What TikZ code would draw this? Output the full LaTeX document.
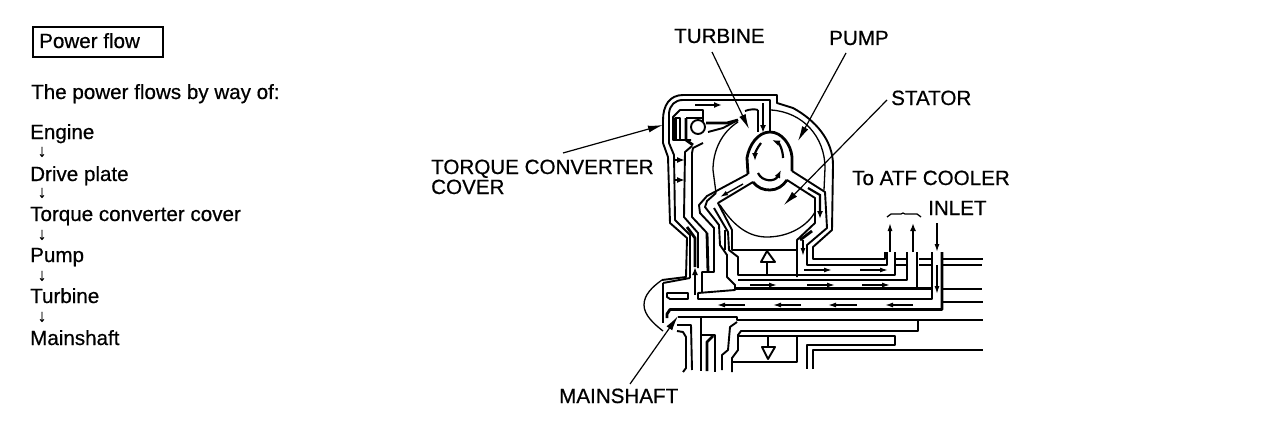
\documentclass[tikz,border=0pt]{standalone}
\usepackage{fontspec}
\setmainfont{Liberation Sans}[RawFeature={embolden=0.6}]
\usetikzlibrary{arrows.meta}
\tikzset{
  lab/.style={anchor=base west,inner sep=0pt,font=\fontsize{20.6}{24}\selectfont,text=black},
  dn/.style={anchor=center,inner sep=0pt,font=\fontsize{17}{20}\selectfont},
  tn/.style={line width=1.3pt,line join=round},
  md/.style={line width=1.9pt,line join=round},
  tk/.style={line width=2.8pt,line join=round},
  lead/.style={line width=1.2pt,-{Latex[length=15pt,width=7pt]}},
  flow/.style={line width=1.4pt,-{Latex[length=8pt,width=5pt]}},
  flowb/.style={line width=2.2pt,-{Latex[length=8pt,width=6pt]}},
}
\begin{document}
\begin{tikzpicture}[x=1pt,y=-1pt]
\useasboundingbox (0,0) rectangle (1280,436);
% left text
\node[draw,line width=1.6pt,minimum width=130pt,minimum height=30pt,anchor=north west,inner sep=0pt] (box) at (32,26) {};
\node[lab] (t0) at (39,48) {Power flow};
\node[lab] (t1) at (31,99) {The power flows by way of:};
\node[lab] (l1) at (30,139) {Engine};
\node[dn] (a1) at (42,152) {↓};
\node[lab] (l2) at (30,181) {Drive plate};
\node[dn] (a2) at (42,193) {↓};
\node[lab] (l3) at (30,221) {Torque converter cover};
\node[dn] (a3) at (42,235) {↓};
\node[lab] (l4) at (30,262) {Pump};
\node[dn] (a4) at (42,276) {↓};
\node[lab] (l5) at (30,303) {Turbine};
\node[dn] (a5) at (42,317) {↓};
\node[lab] (l6) at (30,345) {Mainshaft};
% labels
\node[lab] (turb) at (674,43) {TURBINE};
\node[lab] (pump) at (829,45) {PUMP};
\node[lab] (stat) at (891,105) {STATOR};
\node[lab] (tcc1) at (431,174) {TORQUE CONVERTER};
\node[lab] (tcc2) at (431,194) {COVER};
\node[lab] (atf) at (852,185) {To ATF COOLER};
\node[lab] (inl) at (928,215) {INLET};
\node[lab] (msh) at (559,403) {MAINSHAFT};
% leaders
\coordinate (turbS) at (712,52); \coordinate (turbT) at (749,129);
\coordinate (pumpS) at (846,53); \coordinate (pumpT) at (798,141);
\coordinate (statS) at (887,100); \coordinate (statT) at (784,205);
\coordinate (tccS) at (563,153); \coordinate (tccT) at (663,125);
\coordinate (mshS) at (630,384); \coordinate (mshT) at (678,316);
\draw[lead] (turbS) -- (turbT);
\draw[lead] (pumpS) -- (pumpT);
\draw[lead] (statS) -- (statT);
\draw[lead] (tccS) -- (tccT);
\draw[lead] (mshS) -- (mshT);
% cover outer
\draw[md] (662,280) -- (678,278) -- (686,277) -- (687,238) -- (670,223) -- (668,157) -- (663,143) -- (663,120) .. controls (663,105) and (670,95) .. (683,95) -- (777,95) -- (777,103) -- (793,108) .. controls (815,120) and (833,140) .. (833,165) -- (832,230) -- (813,247) -- (813,259) -- (885,259) -- (885,252);
\draw[tn] (662,280) .. controls (652,287) and (644,295) .. (644,305) .. controls (644,315) and (654,324) .. (663,331);
\draw[md] (690,278) -- (690,235) -- (675,220) -- (674,155) -- (669,143) -- (669,113) .. controls (670,105) and (675,100) .. (683,100) -- (770,100) -- (770,132);
% roller box
\draw[md] (758,110) -- (758,132);
\draw[md] (703,122) -- (703,110) -- (680,110) -- (673,117) -- (673,140) -- (691,140);
\draw[tk] (675.5,118) rectangle (680,140);
\draw[md] (686,118) -- (703,118);
\draw[tk] (686,118) -- (686,140) -- (693,145);
\draw[md] (698,127) circle (7);
\draw[tk] (706,123) -- (727,123) -- (738,120);
\draw[md] (738,120) -- (723,128) -- (708,132);
\draw[md] (703,143) -- (693,148) -- (692,153) -- (692,217) -- (707,233);
\draw[tk] (707,233) -- (708,272);
\draw[md] (692,146) -- (685,152) -- (684,217) -- (698,233) -- (698,268);
% pump and turbine arcs
\draw[tn] (771,110) .. controls (803,112) and (825,137) .. (825,168) -- (824,190);
\draw[tn] (738,122) .. controls (722,132) and (713,150) .. (713,170) -- (716,193);
\draw[md] (745,111) .. controls (750,109) and (755,109) .. (758,110);
\draw[tn] (720,205) .. controls (735,228) and (750,237) .. (767,237) .. controls (790,237) and (808,225) .. (815,212);
% torus
\draw[tk] (748,174) -- (747,158) .. controls (749,145) and (758,132) .. (770,132) .. controls (782,132) and (791,145) .. (792,157) -- (792,171);
\draw[tk] (753,182) .. controls (758,188) and (763,190) .. (770,190) .. controls (777,190) and (783,186) .. (787,180);
% spokes
\draw[md] (748,174) -- (707,196) -- (699,205) -- (700,213) -- (714,228) -- (714,272) -- (702,272) -- (702,292);
\draw[tk] (702,272) -- (714,272);
\draw[md] (716,193) -- (707,201) -- (705,207) -- (719,225) -- (720,245) -- (727,255) -- (727,277) -- (735,285) -- (735,290) -- (698,293) -- (698,299) -- (932,299) -- (932,252);
\draw[md] (714,208) -- (728,232) -- (729,250) -- (738,257) -- (738,275) -- (895,275) -- (895,252);
\draw[md] (753,182) -- (718,203) -- (732,230) -- (732,250) -- (797,250);
\draw[md] (787,180) -- (815,198) -- (815,223) -- (797,240) -- (797,277);
\draw[md] (792,171) -- (825,192) -- (827,228) -- (807,245) -- (807,265) -- (887,265) -- (887,252);
% main horizontal
\draw[md] (907,252) -- (907,280) -- (738,280);
\draw[tk] (735,288.5) -- (932,288.5);
\draw[md] (917,252) -- (917,289);
\draw[tk] (942,252) -- (942,309.5) -- (670,309.5) -- (667,314) -- (667,318);
\draw[md] (942,259) -- (983,259);
\draw[tn] (942,265) -- (982,265);
\draw[tk] (942,289) -- (982,289);
\draw[md] (942,302) -- (983,302);
\draw[md] (895,259) -- (907,259) (919,259) -- (932,259);
\draw[tn] (895,265) -- (907,265) (919,265) -- (932,265);
% lower housing
\draw[tk] (663,283) -- (663,323);
\draw[md] (663,283) -- (690,278);
\draw[md] (667,293) -- (688,293) -- (688,299) -- (670,299) -- (667,297) -- cycle;
\draw[md] (678,317) -- (737,317) -- (737,320) -- (983,320);
\draw[md] (918,320) -- (918,331) -- (741,331) -- (738,335) -- (738,350) -- (732,358) -- (732,372);
\draw[md] (737,322) -- (730,327) -- (728,350) -- (722,355) -- (722,370);
\draw[md] (739,336) -- (895,336) -- (895,345) -- (807,345) -- (807,369);
\draw[md] (813,369) -- (813,350) -- (983,350);
\draw[tk] (732,362) -- (797,362) -- (797,337);
\draw[md] (677,325) -- (691,325) -- (692,370);
\draw[md] (677,331) -- (683,332) -- (686,337) -- (686,368) -- (683,372);
\draw[md] (701,317) -- (701,371);
\draw[md] (702,335) -- (715,335) -- (715,372);
\draw[tk] (713,336) -- (707,342) -- (707,371);
% triangles
\draw[md] (767,251) -- (761,262) -- (775,262) -- cycle;
\draw[md] (767,262) -- (767,275);
\draw[md] (762,347) -- (775,347) -- (768,359) -- cycle;
\draw[md] (768,337) -- (768,347);
% flow arrows
\draw[flowb] (695,105) -- (722,105);
\draw[flowb] (763,103) -- (763,133);
\draw[flowb] (675,160) -- (685,160);
\draw[flowb] (675,180) -- (685,180);
\draw[flowb] (783,158) .. controls (783,150) and (779,143) .. (772,140);
\draw[flowb] (761,143) .. controls (757,148) and (755,153) .. (755,161);
\draw[flowb] (758,173) .. controls (762,182) and (775,182) .. (781,170);
\draw[flow] (743,184) -- (720,197);
\draw[flowb] (808,188) -- (820,195) -- (820,219);
\draw[tk] (800,240) -- (812,231);
\draw[flow] (803,240) -- (803,256);
\draw[flowb] (695,295) -- (695,267);
\draw[tk] (687,227) -- (695,238) -- (695,267);
\draw[tk] (725,230) -- (725,250);
\draw[flow] (750,285) -- (777,285);
\draw[flow] (807,285) -- (835,285);
\draw[flow] (862,285) -- (890,285);
\draw[flow] (804,270) -- (832,270);
\draw[flow] (860,270) -- (888,270);
\draw[flow] (745,305) -- (717,305);
\draw[flow] (801,305) -- (773,305);
\draw[flow] (857,305) -- (828,305);
\draw[flow] (913,305) -- (885,305);
\draw[flow] (890,252) -- (890,223);
\draw[flowb] (913,252) -- (913,223);
\draw[flow] (937,223) -- (937,252);
\draw[flow] (937,265) -- (937,294);
\draw[tn] (887,217) -- (891,214) -- (901,214) -- (903,213) -- (905,214) -- (917,214) -- (921,217);
\end{tikzpicture}
\end{document}
